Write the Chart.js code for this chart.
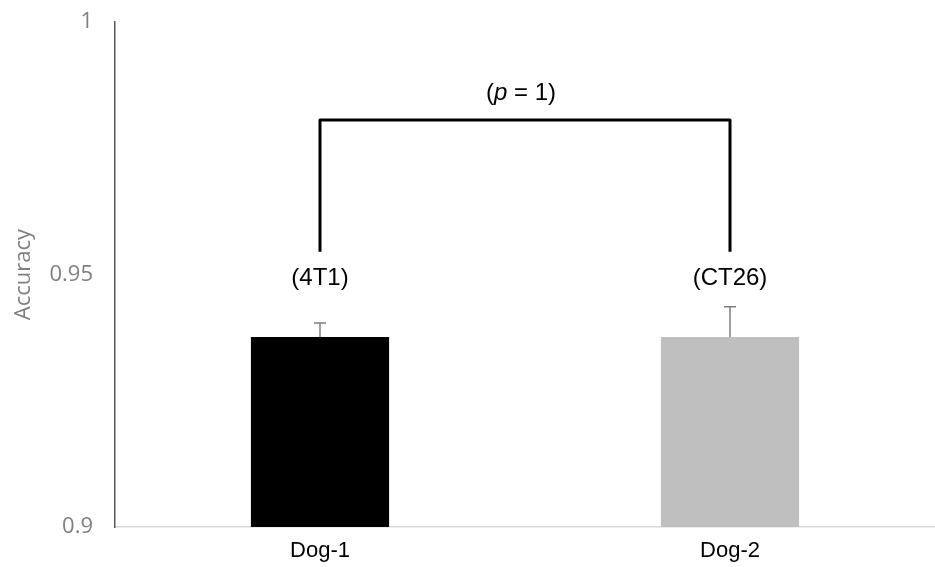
<!DOCTYPE html>
<html>
<head>
<meta charset="utf-8">
<script src="https://cdn.jsdelivr.net/npm/chart.js@4.4.1/dist/chart.umd.min.js"></script>
<style>
html,body{margin:0;padding:0;background:#fff;}
#wrap{width:935px;height:567px;position:relative;}
</style>
</head>
<body>
<div id="wrap"><canvas id="c" width="935" height="567"></canvas></div>
<script>
const categories = ["Dog-1", "Dog-2"];
const accuracy = [0.9376, 0.9376];
const errorUp = [0.0028, 0.0060];
const barColors = ["#000000", "#bfbfbf"];
const groupLabels = ["(4T1)", "(CT26)"];
const groupLabelY = [0.9493, 0.9493];
const bracketTop = 0.9806;
const bracketBottom = [0.9545, 0.9545];
const pLabelY = 0.9859;
const yTicks = [0.9, 0.95, 1];
const yTickLabels = ["0.9", "0.95", "1"];

const LABEL_FONT = '24px "Liberation Sans", Arial, sans-serif';

const overlay = {
  id: 'overlay',
  afterDatasetsDraw(chart) {
    const ctx = chart.ctx;
    const y = chart.scales.y;
    const meta = chart.getDatasetMeta(0);
    ctx.save();
    // error bars
    ctx.strokeStyle = '#7f7f7f';
    ctx.lineWidth = 1.5;
    meta.data.forEach((bar, i) => {
      const cx = bar.x;
      const y0 = y.getPixelForValue(accuracy[i]);
      const y1 = y.getPixelForValue(accuracy[i] + errorUp[i]);
      ctx.beginPath();
      ctx.moveTo(cx, y0); ctx.lineTo(cx, y1);
      ctx.moveTo(cx - 6, y1); ctx.lineTo(cx + 6, y1);
      ctx.stroke();
    });
    // bracket
    const xa = meta.data[0].x, xb = meta.data[1].x;
    const yt = y.getPixelForValue(bracketTop);
    ctx.strokeStyle = '#000';
    ctx.lineWidth = 3;
    ctx.lineJoin = 'round';
    ctx.beginPath();
    ctx.moveTo(xa, y.getPixelForValue(bracketBottom[0]));
    ctx.lineTo(xa, yt);
    ctx.lineTo(xb, yt);
    ctx.lineTo(xb, y.getPixelForValue(bracketBottom[1]));
    ctx.stroke();
    // group labels
    ctx.fillStyle = '#000';
    ctx.font = LABEL_FONT;
    ctx.textAlign = 'center';
    ctx.textBaseline = 'middle';
    meta.data.forEach((bar, i) => {
      ctx.fillText(groupLabels[i], bar.x, y.getPixelForValue(groupLabelY[i]));
    });
    // p label with italic p
    const py = y.getPixelForValue(pLabelY);
    const parts = [["(", ''], ["p", 'italic '], [" = 1)", '']];
    let total = 0;
    parts.forEach(p => {
      ctx.font = p[1] + LABEL_FONT;
      total += ctx.measureText(p[0]).width;
    });
    let cx = (xa + xb) / 2 - 4 - total / 2;
    ctx.textAlign = 'left';
    parts.forEach(p => {
      ctx.font = p[1] + LABEL_FONT;
      ctx.fillText(p[0], cx, py);
      cx += ctx.measureText(p[0]).width;
    });
    ctx.restore();
  }
};

new Chart(document.getElementById('c'), {
  type: 'bar',
  data: {
    labels: categories,
    datasets: [{
      data: accuracy,
      backgroundColor: barColors,
      borderWidth: 0,
      barPercentage: 0.337,
      categoryPercentage: 1.0
    }]
  },
  options: {
    responsive: false,
    animation: false,
    layout: { padding: { top: 22, right: 0, left: 0, bottom: 0 } },
    plugins: { legend: { display: false }, tooltip: { enabled: false } },
    scales: {
      x: {
        grid: { display: false, drawTicks: false },
        border: { display: true, color: '#d9d9d9', width: 1.5 },
        ticks: { color: '#000', font: { family: '"Liberation Sans", Arial, sans-serif', size: 22 }, padding: 11 },
        afterFit(s) { s.height = 40; }
      },
      y: {
        min: 0.9, max: 1,
        afterBuildTicks(s) { s.ticks = yTicks.map(v => ({ value: v })); },
        grid: { display: false, drawTicks: false },
        border: { display: true, color: '#595959', width: 1.5 },
        ticks: {
          color: '#7f7f7f',
          font: { family: '"Open Sans", sans-serif', size: 22 },
          padding: 22,
          callback: (v, i) => yTickLabels[i]
        },
        title: {
          display: true, text: 'Accuracy', color: '#7f7f7f',
          font: { family: '"Open Sans", sans-serif', size: 22 }, padding: { top: 11, bottom: 0 }
        },
        afterFit(s) { s.width = 115; s.paddingTop = 0; s.paddingBottom = 0; }
      }
    }
  },
  plugins: [overlay]
});
</script>
</body>
</html>
